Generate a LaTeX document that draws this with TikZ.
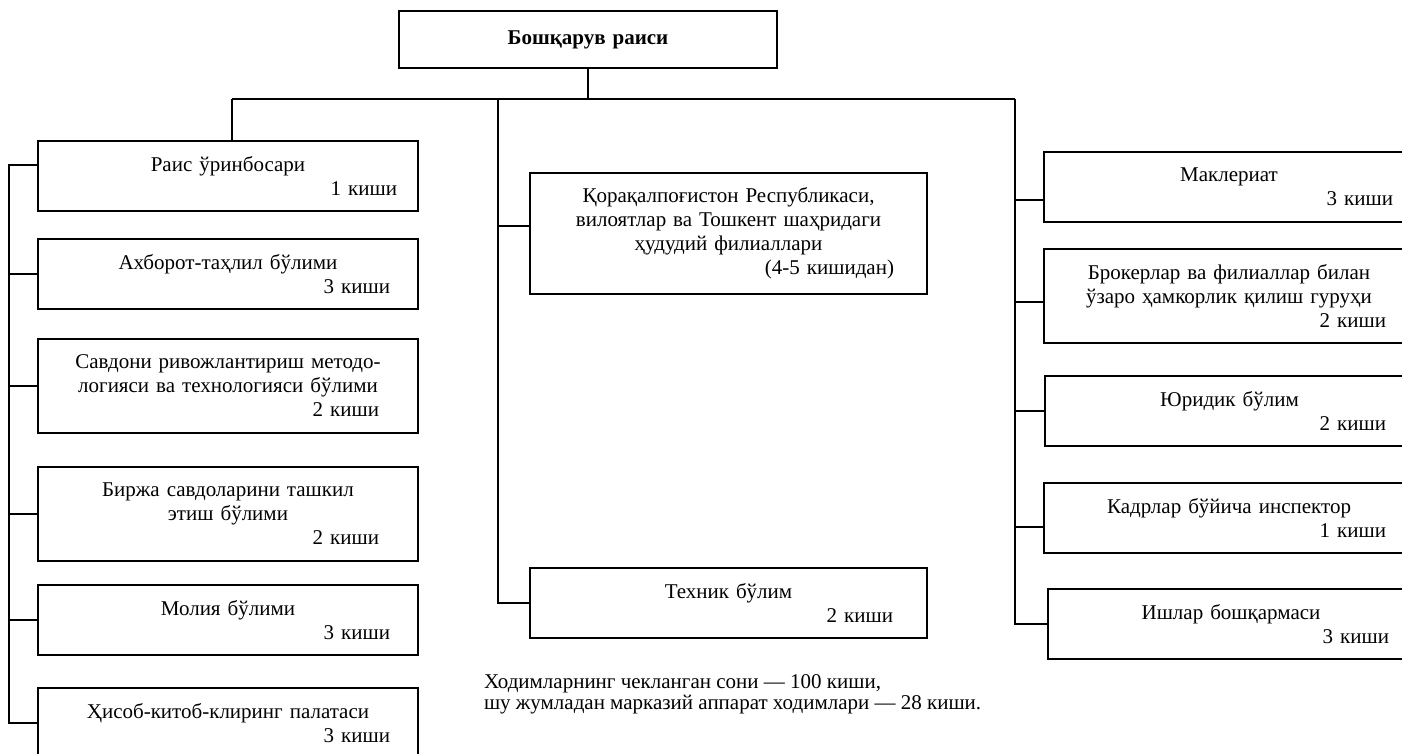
\documentclass[tikz,border=0pt]{standalone}
\usepackage{fontspec}
\setmainfont{Liberation Serif}
\newcommand\cnt[2]{\hspace*{\fill}#2\kern#1\mbox{}}

\begin{document}
\begin{tikzpicture}[x = 0.5pt, y = -0.5pt, line width = 1pt,
  unit/.style = {draw, anchor = north west, align = center, inner xsep = 0pt, inner ysep = 0pt, font = \fontsize{10.5}{12}\selectfont},
  boxw/.style = {minimum width = #1, text width = #1}]
\useasboundingbox (0,0) rectangle (1402,754);
\clip (0,0) rectangle (1402,754);
\node [unit, boxw = 189pt, minimum height = 28.5pt, font = \bfseries\fontsize{10.5}{12}\selectfont] (chair) at (398,10) {Бошқарув раиси};
\node [unit, boxw = 190pt, minimum height = 35pt] (deputy) at (37,140) {Раис ўринбосари\\\cnt{10.5pt}{1 киши}};
\node [unit, boxw = 190pt, minimum height = 35pt] (info) at (37,238) {Ахборот-таҳлил бўлими\\\cnt{14pt}{3 киши}};
\node [unit, boxw = 190pt, minimum height = 47pt] (method) at (37,338) {Савдони ривожлантириш методо-\\логияси ва технологияси бўлими\\\cnt{19.5pt}{2 киши}};
\node [unit, boxw = 190pt, minimum height = 47pt] (trade) at (37,466) {Биржа савдоларини ташкил\\этиш бўлими\\\cnt{19.5pt}{2 киши}};
\node [unit, boxw = 190pt, minimum height = 35pt] (finance) at (37,584) {Молия бўлими\\\cnt{14pt}{3 киши}};
\node [unit, boxw = 190pt, minimum height = 35pt] (clearing) at (37,687) {Ҳисоб-китоб-клиринг палатаси\\\cnt{14pt}{3 киши}};
\node [unit, boxw = 198.5pt, minimum height = 60.5pt] (regions) at (529,172) {Қорақалпоғистон Республикаси,\\вилоятлар ва Тошкент шаҳридаги\\ҳудудий филиаллари\\\cnt{16.5pt}{(4-5 кишидан)}};
\node [unit, boxw = 198.5pt, minimum height = 35pt] (tech) at (529,567) {Техник бўлим\\\cnt{17pt}{2 киши}};
\node [unit, boxw = 185pt, minimum height = 35pt] (dealers) at (1043,151) {Маклериат\\\cnt{10.5pt}{3 киши}};
\node [unit, boxw = 185pt, minimum height = 47pt] (brokers) at (1043,248) {Брокерлар ва филиаллар билан\\ўзаро ҳамкорлик қилиш гуруҳи\\\cnt{14pt}{2 киши}};
\node [unit, boxw = 184.5pt, minimum height = 35pt] (legal) at (1044,375) {Юридик бўлим\\\cnt{14pt}{2 киши}};
\node [unit, boxw = 185pt, minimum height = 35pt] (hr) at (1043,482) {Кадрлар бўйича инспектор\\\cnt{14pt}{1 киши}};
\node [unit, boxw = 183pt, minimum height = 35pt] (office) at (1047,588) {Ишлар бошқармаси\\\cnt{12.5pt}{3 киши}};
\node [anchor = north west, align = left, inner sep = 0pt, font = \fontsize{10.5}{10.5}\selectfont] (note) at (483,674) {Ходимларнинг чекланган сони — 100 киши,\\шу жумладан марказий аппарат ходимлари — 28 киши.};
\coordinate (busL) at (232,99);
\coordinate (busM) at (498,99);
\coordinate (busR) at (1015,99);
\coordinate (spine) at (9,164);
\draw (chair.south) -- (chair.south |- busL);
\draw (busL) -- (busR);
\draw (busL) -- (busL |- deputy.north);
\draw ([yshift = 5.5pt]deputy.west) -| (spine |- clearing.west) -- (clearing.west);
\foreach \n in {info,method,trade,finance}
  \draw (\n.west) -- (\n.west -| spine);
\draw (busM) |- (tech.west);
\draw ([yshift = 3.75pt]regions.west) -- ([yshift = 3.75pt]regions.west -| busM);
\draw (busR) |- (office.west);
\foreach \n/\s in {dealers/-6.5pt,brokers/-3pt,legal/0pt,hr/-4.5pt}
  \draw ([yshift = \s]\n.west) -- ([yshift = \s]\n.west -| busR);
\end{tikzpicture}
\end{document}
